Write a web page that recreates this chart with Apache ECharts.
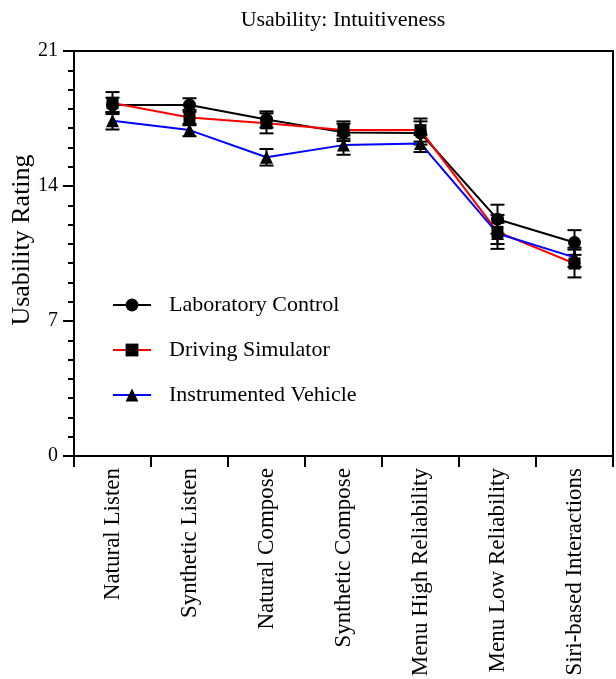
<!DOCTYPE html>
<html>
<head>
<meta charset="utf-8">
<script src="https://cdn.jsdelivr.net/npm/echarts@6/dist/echarts.min.js"></script>
<style>
  html, body { margin: 0; padding: 0; background: #fff; }
  #chart { width: 616px; height: 679px; }
</style>
</head>
<body>
<div id="chart"></div>
<script>
// Usability rating (mean ± SE) per interaction type
const categories = [
  'Natural Listen', 'Synthetic Listen', 'Natural Compose', 'Synthetic Compose',
  'Menu High Reliability', 'Menu Low Reliability', 'Siri-based Interactions'
];
const seriesNames = ['Laboratory Control', 'Driving Simulator', 'Instrumented Vehicle'];

const labControl   = [18.2, 18.2, 17.45, 16.78, 16.75, 12.28, 11.07];
const drivingSim   = [18.3, 17.55, 17.25, 16.9, 16.9, 11.62, 9.98];
const instrVehicle = [17.38, 16.9, 15.49, 16.12, 16.21, 11.54, 10.3];

const labControlErr   = [0.38, 0.35, 0.42, 0.45, 0.6, 0.75, 0.64];
const drivingSimErr   = [0.57, 0.4, 0.52, 0.45, 0.6, 0.88, 0.72];
const instrVehicleErr = [0.45, 0.32, 0.43, 0.5, 0.45, 0.55, 0.5];

const yTicks = [0, 7, 14, 21];
const yTitle = 'Usability Rating';

const FONT = '"Liberation Serif", "Times New Roman", serif';

const lineColors = ['#000000', '#ff0000', '#0000ff'];
const symbols = ['circle', 'rect', 'triangle'];
const symbolSizes = [13, 12, 13];
const means = [labControl, drivingSim, instrVehicle];
const errs = [labControlErr, drivingSimErr, instrVehicleErr];

function errorBarSeries(values, errors) {
  const data = values.map((v, i) => [i, v - errors[i], v + errors[i]]);
  return {
    type: 'custom',
    silent: true,
    z: 3,
    renderItem: function (params, api) {
      const x = api.value(0);
      const lo = api.coord([x, api.value(1)]);
      const hi = api.coord([x, api.value(2)]);
      const half = 7;
      const style = { stroke: '#000', lineWidth: 2 };
      return {
        type: 'group',
        children: [
          { type: 'line', shape: { x1: lo[0], y1: lo[1], x2: hi[0], y2: hi[1] }, style: style },
          { type: 'line', shape: { x1: lo[0] - half, y1: lo[1], x2: lo[0] + half, y2: lo[1] }, style: style },
          { type: 'line', shape: { x1: hi[0] - half, y1: hi[1], x2: hi[0] + half, y2: hi[1] }, style: style }
        ]
      };
    },
    encode: { x: 0, y: [1, 2] },
    data: data
  };
}

const lineSeries = seriesNames.map((name, k) => ({
  name: name,
  type: 'line',
  data: means[k],
  symbol: symbols[k],
  symbolSize: symbolSizes[k],
  z: 4,
  lineStyle: { color: lineColors[k], width: 2 },
  itemStyle: { color: '#000' },
  emphasis: { disabled: true }
}));

const chart = echarts.init(document.getElementById('chart'), null, { renderer: 'canvas' });

chart.setOption({
  animation: false,
  backgroundColor: '#fff',
  title: {
    text: 'Usability: Intuitiveness',
    left: 343,
    textAlign: 'center',
    top: 9,
    padding: 0,
    textStyle: { fontFamily: FONT, fontSize: 22, fontWeight: 'normal', color: '#000' }
  },
  legend: {
    orient: 'vertical',
    left: 112,
    top: 294,
    padding: 0,
    itemWidth: 38,
    itemHeight: 16,
    itemGap: 23,
    data: seriesNames,
    textStyle: {
      fontFamily: FONT, fontSize: 22, color: '#000',
      lineHeight: 22, padding: [0, 0, 0, 13]
    }
  },
  // vertical axis title
  graphic: [{
    type: 'text',
    x: 22,
    y: 240,
    rotation: Math.PI / 2,
    style: {
      text: yTitle,
      fontFamily: FONT,
      fontSize: 26,
      fill: '#000',
      align: 'center',
      verticalAlign: 'middle'
    }
  }],
  grid: {
    left: 74, right: 3, top: 51, bottom: 223,
    outerBoundsMode: 'none',
    containLabel: false,
    show: true, borderColor: '#000', borderWidth: 2, backgroundColor: 'transparent'
  },
  xAxis: {
    type: 'category',
    data: categories,
    boundaryGap: true,
    axisLine: { lineStyle: { color: '#000', width: 2 } },
    axisTick: { show: true, length: 11, inside: false, lineStyle: { color: '#000', width: 2 } },
    axisLabel: {
      rotate: 90,
      margin: 12,
      fontFamily: FONT,
      fontSize: 23,
      color: '#000'
    },
    splitLine: { show: false }
  },
  yAxis: {
    type: 'value',
    min: yTicks[0],
    max: yTicks[yTicks.length - 1],
    interval: 7,
    axisLine: { show: true, lineStyle: { color: '#000', width: 2 } },
    axisTick: { show: true, length: 11, lineStyle: { color: '#000', width: 2 } },
    minorTick: { show: true, splitNumber: 7, length: 6, lineStyle: { color: '#000', width: 2 } },
    axisLabel: { margin: 16, fontFamily: FONT, fontSize: 20, color: '#000' },
    splitLine: { show: false }
  },
  series: [
    ...lineSeries,
    ...means.map((m, k) => errorBarSeries(m, errs[k]))
  ]
});
</script>
</body>
</html>
